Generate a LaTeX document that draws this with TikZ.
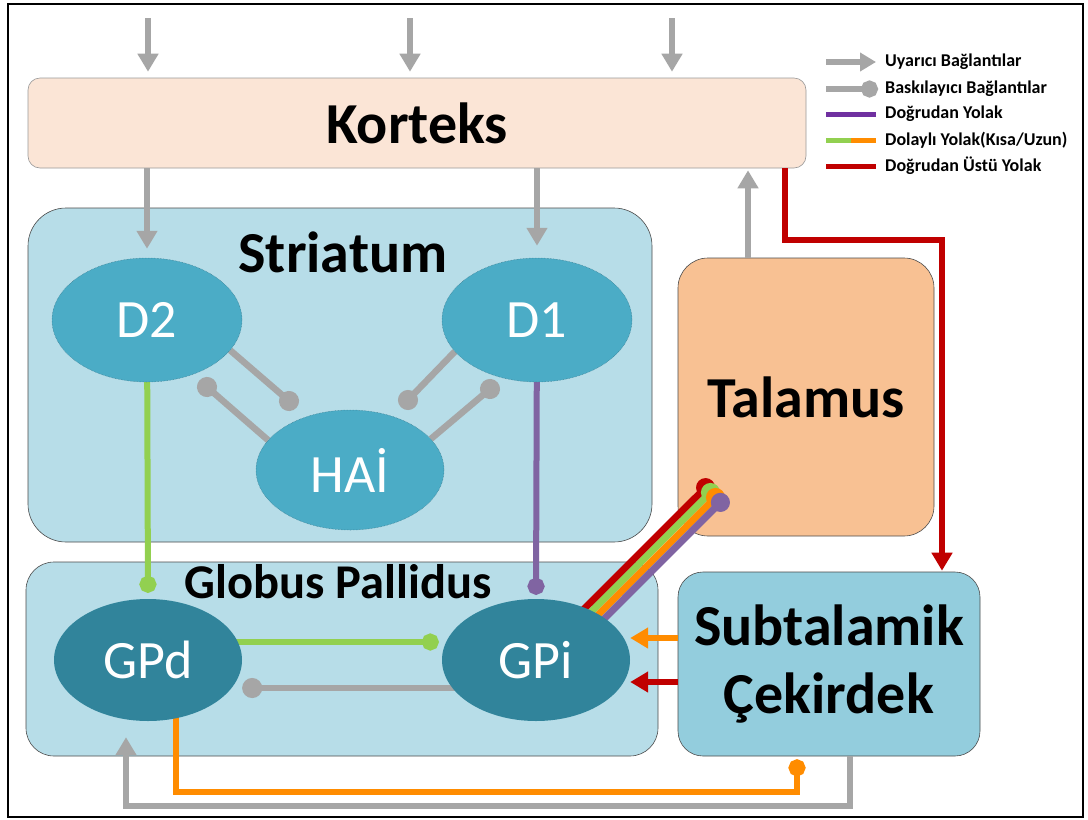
\documentclass[tikz,border=0pt]{standalone}
\usepackage{fontspec}
\setmainfont{Carlito}
\usetikzlibrary{arrows.meta,shapes.geometric}

\definecolor{cortexfill}{HTML}{FBE5D6}
\definecolor{regionfill}{HTML}{B7DDE8}
\definecolor{strfill}{HTML}{4BACC6}
\definecolor{gpfill}{HTML}{31849B}
\definecolor{thalfill}{HTML}{F8C193}
\definecolor{stnfill}{HTML}{93CDDD}
\definecolor{cgray}{HTML}{A6A6A6}
\definecolor{cgreen}{HTML}{92D050}
\definecolor{corange}{HTML}{FF8C00}
\definecolor{cpurple}{HTML}{8064A2}
\definecolor{lpurple}{HTML}{7030A0}
\definecolor{cred}{HTML}{C00000}

\pgfdeclarelayer{boxes}
\pgfdeclarelayer{wires}
\pgfsetlayers{boxes,wires,main}

\tikzset{
  bigtext/.style={font=\fontsize{58}{62}\selectfont\bfseries},
  region/.style={draw=black!70, line width=0.6pt, fill=regionfill, rounded corners=38pt, inner sep=0pt},
  cell/.style={ellipse, inner sep=0pt, text=white, font=\fontsize{54}{58}\selectfont},
  striatal/.style={cell, fill=strfill, draw=strfill!70!black, densely dotted, line width=0.5pt},
  pallidal/.style={cell, fill=gpfill},
  excite/.style={draw=cgray, line width=6.5pt, -{Triangle[width=20pt,length=18pt]}},
  inhibit/.style={draw=cgray, line width=6.5pt, -{Circle[length=20pt]}},
  pathline/.style={line width=6pt},
  bundleline/.style={line width=7pt, -{Circle[length=19pt]}, shorten >=-9.5pt},
  pathdot/.style={-{Circle[length=17pt]}},
  patharrow/.style={-{Triangle[width=20pt,length=18pt]}},
  legtext/.style={anchor=west, font=\fontsize{18}{20}\selectfont\bfseries, inner sep=0pt}
}

\begin{document}
\begin{tikzpicture}[x=1pt,y=-1pt]
\useasboundingbox (0,0) rectangle (1088,820);

% ---------- regions ----------
\begin{pgfonlayer}{boxes}
\fill[white] (0,0) rectangle (1088,820);
\draw[line width=2pt] (8,4) rectangle (1083,817);
\node[draw=black!40, line width=0.6pt, fill=cortexfill, rounded corners=12pt,
      minimum width=778pt, minimum height=90pt, bigtext] (kor) at (417,123) {Korteks};
\node[region, minimum width=624pt, minimum height=334pt] (str) at (340,375) {};
\node[region, rounded corners=28pt, minimum width=632pt, minimum height=194pt] (gp) at (342,659) {};
\node[draw=black!70, line width=0.6pt, fill=thalfill, rounded corners=30pt,
      minimum width=256pt, minimum height=278pt, bigtext] (tal) at (806,397) {Talamus};
\node[draw=black!70, line width=0.6pt, fill=stnfill, rounded corners=25pt,
      minimum width=302pt, minimum height=184pt, bigtext, align=center] (sub) at (829,664)
      {Subtalamik\\[6pt]Çekirdek};
\end{pgfonlayer}

\node[bigtext] (strlabel) at (343,252) {Striatum};
\node[font=\fontsize{48.5}{52}\selectfont\bfseries] (gplabel) at (338,582) {Globus Pallidus};

% ---------- nuclei ----------
\node[striatal, minimum width=190pt, minimum height=124pt] (d2) at (147,320) {D2};
\node[striatal, minimum width=190pt, minimum height=124pt] (d1) at (537,320) {D1};
\node[striatal, minimum width=188pt, minimum height=120pt] (hai) at (350,470) {HAİ};
\node[pallidal, minimum width=188pt, minimum height=122pt] (gpd) at (148,660) {GPd};
\node[pallidal, minimum width=188pt, minimum height=122pt] (gpi) at (536,660) {GPi};

% ---------- helper coordinates ----------
\coordinate (in1) at (148,18);
\coordinate (in2) at (410,18);
\coordinate (in3) at (672,18);
\coordinate (tk) at (748,0);
\coordinate (r1) at (785,0);
\coordinate (r2) at (942,240);
\coordinate (o1) at (176,0);
\coordinate (o2) at (797,792);
\coordinate (g1) at (850,0);
\coordinate (g2) at (126,806);
\coordinate (ya) at (0,638);
\coordinate (yb) at (0,682);
\coordinate (yc) at (0,642);
\coordinate (yd) at (0,688);
\coordinate (dA) at (289,401);
\coordinate (dB) at (207,387);
\coordinate (dC) at (408,400);
\coordinate (dD) at (490,389);
% bundle towards the thalamus
\coordinate (bRs) at (564,629);   \coordinate (bRe) at (705.6,487.6);
\coordinate (bGs) at (569,634);   \coordinate (bGe) at (710.5,492.5);
\coordinate (bOs) at (574,639);   \coordinate (bOe) at (715.5,497.5);
\coordinate (bPs) at (579,644);   \coordinate (bPe) at (720.4,502.4);

% ---------- connectors ----------
\begin{pgfonlayer}{wires}
\draw[excite, shorten >=6pt] (in1) -- (in1 |- kor.north);
\draw[excite, shorten >=6pt] (in2) -- (in2 |- kor.north);
\draw[excite, shorten >=6pt] (in3) -- (in3 |- kor.north);
\draw[excite, shorten >=9pt] (kor.south -| d2) -- (d2.north);
\draw[excite, shorten >=12pt] (kor.south -| d1) -- (d1.north);
\draw[excite, shorten >=2pt] (tal.north -| tk) -- (kor.south -| tk);

\draw[cred, pathline, patharrow, shorten >=1pt] (kor.south -| r1) |- (r2) -- (sub.north -| r2);

% striatal interneuron loops
\draw[inhibit, shorten >=-10pt] (d2.-20) -- (dA);
\draw[inhibit, shorten >=-10pt] (hai.160) -- (dB);
\draw[inhibit, shorten >=-10pt] (d1.201) -- (dC);
\draw[inhibit, shorten >=-10pt] (hai.21) -- (dD);

% striatum to pallidum
\draw[cgreen, pathline, pathdot, shorten >=6pt] (d2.center) -- (gpd.north);
\draw[cpurple, pathline, pathdot, shorten >=4pt] (d1.center) -- (gpi.north);

% within the pallidum
\draw[cgreen, pathline, pathdot, shorten >=3pt] (gpd.center |- yc) -- (gpi.west |- yc);
\draw[inhibit] (gpi.center |- yd) -- (gpd.east |- yd);

% subthalamic nucleus to GPi
\draw[corange, pathline, patharrow] (sub.west |- ya) -- (gpi.east |- ya);
\draw[cred, pathline, patharrow] (sub.west |- yb) -- (gpi.east |- yb);

% loops below
\draw[corange, pathline, pathdot, shorten >=3pt] (gpd.center -| o1) |- (o2) -- (sub.south -| o2);
\draw[excite, shorten >=16pt] (sub.south -| g1) |- (g2) -- (gpd.south -| g2);

% pallidal output bundle to the thalamus
\draw[cred,    bundleline] (bRs) -- (bRe);
\draw[cgreen,  bundleline] (bGs) -- (bGe);
\draw[corange, bundleline] (bOs) -- (bOe);
\draw[cpurple, bundleline] (bPs) -- (bPe);
\end{pgfonlayer}

% ---------- legend ----------
\coordinate (l1) at (826,62);  \coordinate (l1e) at (876,62);
\coordinate (l2) at (826,89);  \coordinate (l2e) at (878,89);
\coordinate (l3) at (826,114); \coordinate (l3e) at (876,114);
\coordinate (l4) at (826,140); \coordinate (l4m) at (851,140); \coordinate (l4e) at (876,140);
\coordinate (l5) at (826,166); \coordinate (l5e) at (876,166);
\draw[draw=cgray, line width=6pt, -{Triangle[width=18pt,length=16pt]}] (l1) -- (l1e);
\draw[draw=cgray, line width=6pt, -{Circle[length=17pt]}] (l2) -- (l2e);
\draw[lpurple, line width=5pt] (l3) -- (l3e);
\draw[cgreen, line width=5pt] (l4) -- (l4m);
\draw[corange, line width=5pt] (l4m) -- (l4e);
\draw[cred, line width=5pt] (l5) -- (l5e);
\node[legtext] (t1) at (885,62) {Uyarıcı Bağlantılar};
\node[legtext] (t2) at (885,89) {Baskılayıcı Bağlantılar};
\node[legtext] (t3) at (885,114) {Doğrudan Yolak};
\node[legtext] (t4) at (885,140) {Dolaylı Yolak(Kısa/Uzun)};
\node[legtext] (t5) at (885,166) {Doğrudan Üstü Yolak};
\end{tikzpicture}
\end{document}
